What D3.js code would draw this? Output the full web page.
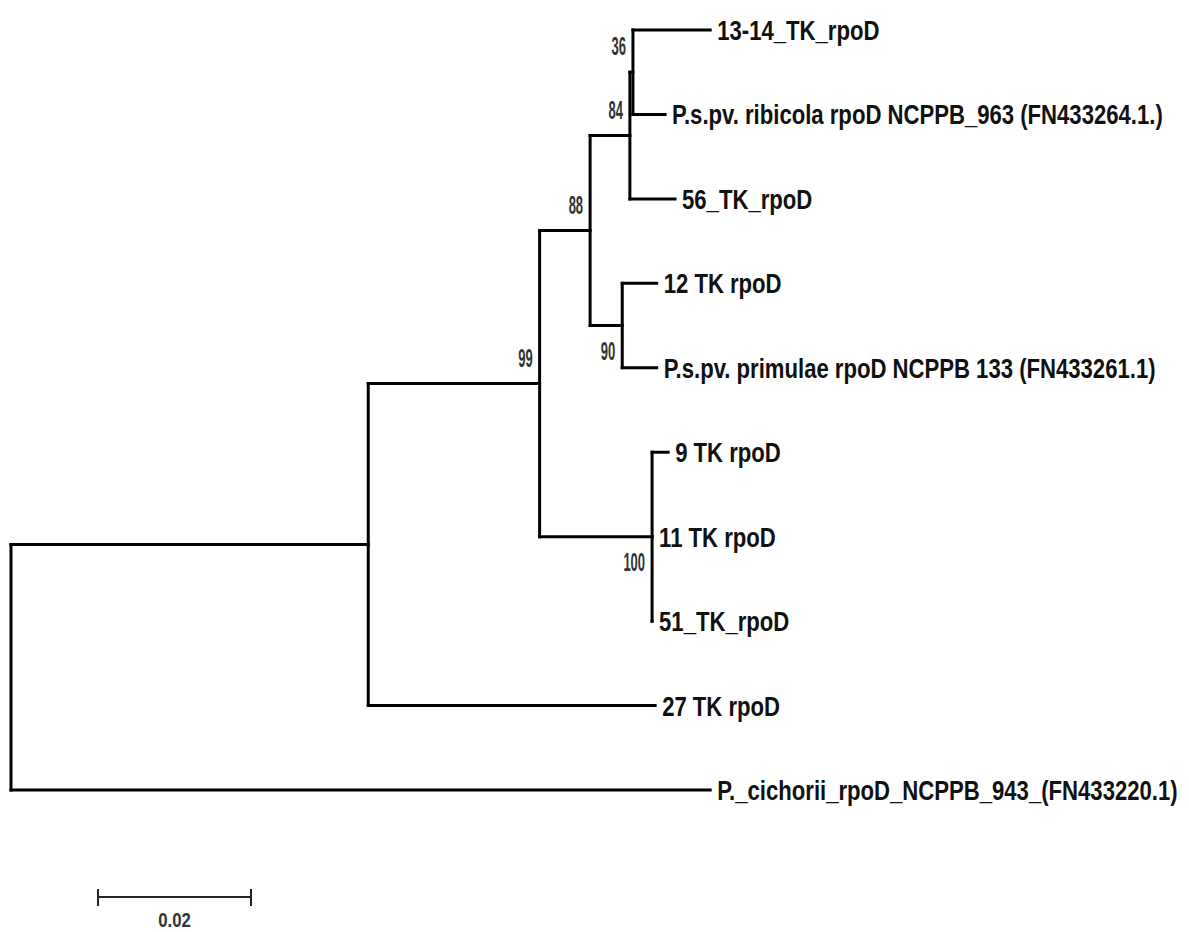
<!DOCTYPE html>
<meta charset="utf-8">
<style>
  body { margin: 0; background: #fff; }
  text { font-family: "Liberation Sans", Arial, sans-serif; }
</style>
<script src="https://cdn.jsdelivr.net/npm/d3@7"></script>
<body>
</body>
<script>

// tree as flat lists: id, parent, branch length (substitutions/site), bootstrap
var nodeIds = ["root", "A", "B", "C", "D", "N36", "t1314", "ribicola", "t56",
               "E", "t12", "primulae", "F", "t9", "t11", "t51", "t27", "cichorii"];
var parents = ["", "root", "A", "B", "C", "D", "N36", "N36", "D",
               "C", "E", "E", "B", "F", "F", "F", "A", "root"];
var branchLengths = [0, 0.0467, 0.0224, 0.0066, 0.0052, 0.0004, 0.0101, 0.0042, 0.0059,
                     0.0042, 0.0045, 0.0045, 0.0147, 0.0021, 0.0, 0.0, 0.0375, 0.0914];
var support = [null, null, 99, 88, 84, 36, null, null, null,
               90, null, null, 100, null, null, null, null, null];
var leafLabels = {
  t1314: "13-14_TK_rpoD",
  ribicola: "P.s.pv. ribicola rpoD NCPPB_963 (FN433264.1.)",
  t56: "56_TK_rpoD",
  t12: "12 TK rpoD",
  primulae: "P.s.pv. primulae rpoD NCPPB 133 (FN433261.1)",
  t9: "9 TK rpoD",
  t11: "11 TK rpoD",
  t51: "51_TK_rpoD",
  t27: "27 TK rpoD",
  cichorii: "P._cichorii_rpoD_NCPPB_943_(FN433220.1)"
};
var scaleBarValue = 0.02;

const width = 1189, height = 932;

var table = nodeIds.map((id, i) => ({id: id, parent: parents[i], len: branchLengths[i], boot: support[i]}));
var root = d3.stratify().id(d => d.id).parentId(d => d.parent || null)(table);

root.eachBefore(n => { n.dist = n.parent ? n.parent.dist + n.data.len : 0; });

var leaves = root.leaves();
var xScale = d3.scaleLinear().domain([0, 0.02]).range([11, 11 + 153]);
var yScale = d3.scaleLinear().domain([0, leaves.length - 1]).range([30, 790]);

leaves.forEach((l, i) => { l.y = yScale(i); });
root.eachAfter(n => {
  n.x = xScale(n.dist);
  if (n.children) n.y = (n.children[0].y + n.children[n.children.length - 1].y) / 2;
});

var svg = d3.select("body").append("svg")
  .attr("width", width)
  .attr("height", height);

var g = svg.append("g");

// horizontal branches
g.selectAll(".hbranch")
  .data(root.descendants().filter(d => d.parent))
  .enter()
  .append("line")
    .attr("class", "hbranch")
    .attr("x1", d => d.parent.x)
    .attr("x2", d => d.x)
    .attr("y1", d => d.y)
    .attr("y2", d => d.y)
    .attr("stroke", "#000")
    .attr("stroke-width", 3)
    .attr("stroke-linecap", "square");

// vertical connectors
g.selectAll(".vbranch")
  .data(root.descendants().filter(d => d.children))
  .enter()
  .append("line")
    .attr("class", "vbranch")
    .attr("x1", d => d.x)
    .attr("x2", d => d.x)
    .attr("y1", d => d.children[0].y)
    .attr("y2", d => d.children[d.children.length - 1].y)
    .attr("stroke", "#000")
    .attr("stroke-width", 3)
    .attr("stroke-linecap", "square");

// leaf names (narrow face faked with a horizontal squeeze)
g.selectAll(".leaf")
  .data(leaves)
  .enter()
  .append("text")
    .attr("class", "leaf")
    .attr("transform", d => `translate(${d.x + 7},${d.y + 10}) scale(0.79,1)`)
    .attr("font-size", 28)
    .attr("font-weight", "bold")
    .attr("fill", "#111")
    .text(d => leafLabels[d.id]);

// bootstrap values: above for first child, below for the other
g.selectAll(".boot")
  .data(root.descendants().filter(d => d.data.boot != null))
  .enter()
  .append("text")
    .attr("class", "boot")
    .attr("transform", d => {
      var y = (d.parent && d.parent.children[0] === d) ? d.y - 17 : d.y + 34;
      return `translate(${d.x - 7},${y}) scale(0.52,1)`;
    })
    .attr("text-anchor", "end")
    .attr("font-size", 25)
    .attr("font-weight", "bold")
    .attr("fill", "#333")
    .text(d => d.data.boot);

// scale bar
var sb = svg.append("g").attr("transform", "translate(98,897)");
var sbLen = xScale(scaleBarValue) - xScale(0);
sb.append("line").attr("x1", 0).attr("x2", sbLen).attr("y1", 0).attr("y2", 0)
  .attr("stroke", "#222").attr("stroke-width", 2);
sb.selectAll(".tick").data([0, sbLen]).enter().append("line")
  .attr("x1", d => d).attr("x2", d => d).attr("y1", -8).attr("y2", 9)
  .attr("stroke", "#222").attr("stroke-width", 2);
sb.append("text")
  .attr("transform", `translate(${sbLen / 2},30) scale(0.8,1)`)
  .attr("text-anchor", "middle")
  .attr("font-size", 21)
  .attr("font-weight", "bold")
  .attr("fill", "#333")
  .text(scaleBarValue);

</script>
